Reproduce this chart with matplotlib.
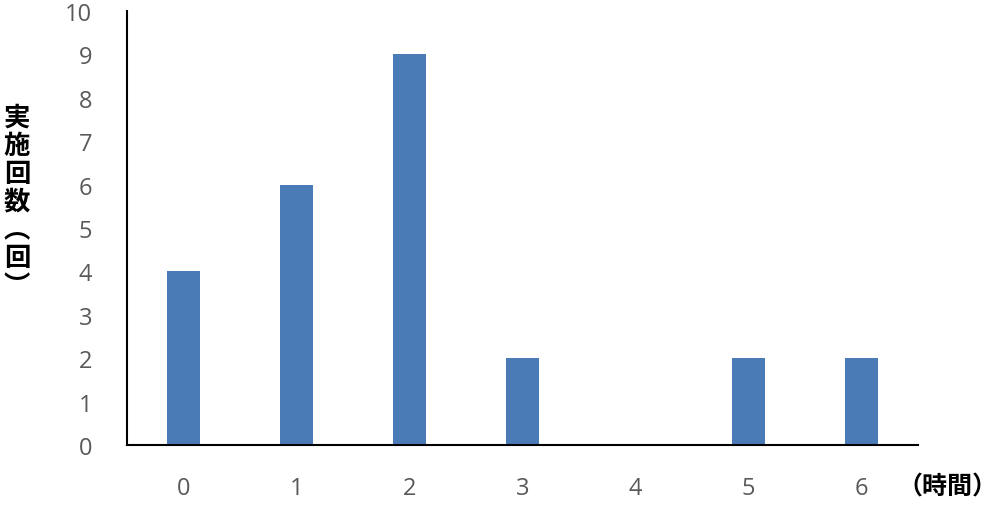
import matplotlib.pyplot as plt
import numpy as np

plt.rcParams['font.family'] = ['Open Sans', 'Noto Sans CJK JP', 'DejaVu Sans']

hours = ['0', '1', '2', '3', '4', '5', '6']
counts = [4, 6, 9, 2, 0, 2, 2]
yticks = list(range(0, 11))

fig = plt.figure(figsize=(10, 5.06), dpi=100)
ax = fig.add_axes([0.127, 0.1186, 0.791, 0.8577])

x = np.arange(len(hours))
ax.bar(x, counts, width=0.3, color='#4a7bb7')

ax.set_xlim(-0.5, len(hours) - 0.5)
ax.set_ylim(0, 10)
ax.set_xticks(x)
ax.set_xticklabels(hours)
ax.set_yticks(yticks)

ax.tick_params(axis='both', length=0, labelsize=17, colors='#595959')
ax.tick_params(axis='y', pad=25)
ax.tick_params(axis='x', pad=22)

for s in ['top', 'right']:
    ax.spines[s].set_visible(False)
for s in ['left', 'bottom']:
    ax.spines[s].set_color('black')
    ax.spines[s].set_linewidth(1.5)

jp = ['Noto Sans CJK JP', 'DejaVu Sans']
fig.text(0.017, 0.6, '実\n施\n回\n数\n︵\n回\n︶', family=jp, fontsize=19,
         fontweight='bold', ha='center', va='center', linespacing=1.05, color='black')
fig.text(0.947, 0.037, '（時間）', family=jp, fontsize=18,
         fontweight='bold', ha='center', va='center', color='black')

fig.savefig('out.png', dpi=100)
